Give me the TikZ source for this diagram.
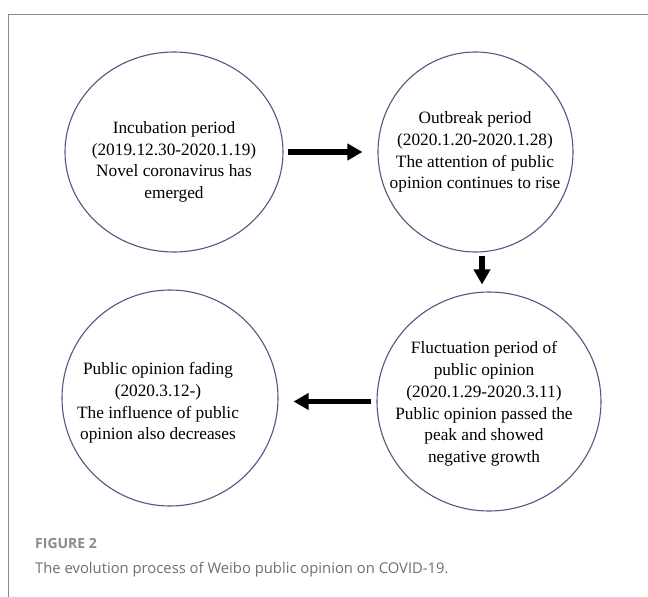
\documentclass[tikz,border=0pt]{standalone}
\usepackage{fontspec}
\setmainfont{Liberation Serif}
\newfontfamily\capfont{Open Sans}
\usetikzlibrary{shapes.geometric,arrows.meta}
\definecolor{ringcol}{HTML}{4A5A80}
\definecolor{framecol}{HTML}{8C8C8C}
\definecolor{capcol}{HTML}{6E6E6E}
\definecolor{figcol}{HTML}{8A8A8A}
\tikzset{
  ring/.style={ellipse, draw=ringcol, line width=1.1pt, inner sep=0pt},
  ptext/.style={align=center, font=\fontsize{17.3}{21.7}\selectfont, inner sep=0pt},
  bigarrow/.style={line width=5.5pt, -{Triangle[width=16pt,length=15pt]}},
}
\begin{document}
\begin{tikzpicture}[x=1pt,y=-1pt]
\useasboundingbox (0,0) rectangle (648,597);
% frame
\draw[framecol, line width=1pt] (8,597) -- (8,14) -- (648,14);
% rings
\node[ring, minimum width=218pt, minimum height=200pt] (e1) at (174,152) {};
\node[ring, minimum width=195pt, minimum height=200pt] (e2) at (475.5,152) {};
\node[ring, minimum width=224pt, minimum height=219pt] (e3) at (489,401.5) {};
\node[ring, minimum width=216pt, minimum height=216pt] (e4) at (170,398) {};
% texts
\node[ptext] (t1) at (174,162) {Incubation period\\(2019.12.30-2020.1.19)\\Novel coronavirus has\\emerged};
\node[ptext] (t2) at (475,152) {Outbreak period\\(2020.1.20-2020.1.28)\\The attention of public\\opinion continues to rise};
\node[ptext] (t3) at (484,404) {Fluctuation period of\\public opinion\\(2020.1.29-2020.3.11)\\Public opinion passed the\\peak and showed\\negative growth};
\node[ptext] (t4) at (158,403) {Public opinion fading\\(2020.3.12-)\\The influence of public\\opinion also decreases};
% arrows
\draw[bigarrow] ([xshift=4pt]e1.east) -- ([xshift=-15pt]e2.west);
\draw[bigarrow] ([xshift=6.5pt,yshift=-3pt]e2.south) -- ([xshift=-7pt,yshift=7pt]e3.north);
\draw[bigarrow] ([xshift=-5pt]e3.west) -- ([xshift=15pt]e4.east |- e3.west);
% caption
\node[anchor=base west, inner sep=0pt, text=figcol, font=\capfont\bfseries\fontsize{14}{16}\selectfont] (fig) at (35,548) {FIGURE 2};
\node[anchor=base west, inner sep=0pt, text=capcol, font=\capfont\fontsize{14.8}{18}\selectfont] (cap) at (35,573) {The evolution process of Weibo public opinion on COVID-19.};
\end{tikzpicture}
\end{document}
